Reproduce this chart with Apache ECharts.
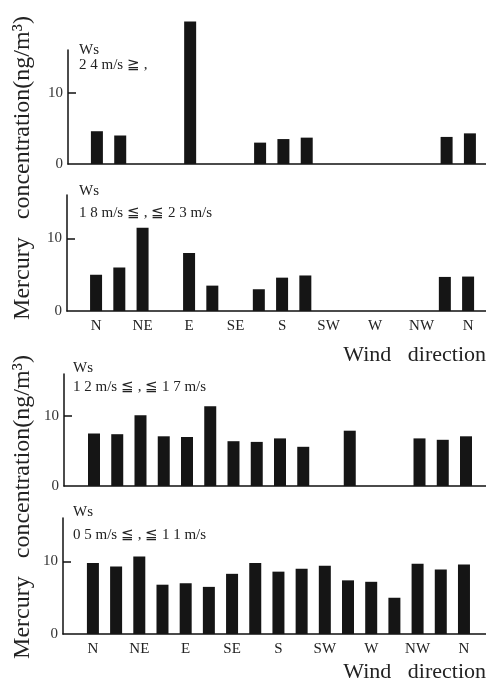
<!DOCTYPE html>
<html><head><meta charset="utf-8">
<script src="https://cdn.jsdelivr.net/npm/echarts@6/dist/echarts.min.js"></script>
<style>html,body{margin:0;padding:0;background:#fff}#c{width:486px;height:685px}</style>
</head><body><div id="c"></div>
<script>
// 16-point wind directions (N repeated at end)
const directions = ['N','NNE','NE','ENE','E','ESE','SE','SSE','S','SSW','SW','WSW','W','WNW','NW','NNW','N'];
const tickLabels = ['N','NE','E','SE','S','SW','W','NW','N'];
const tickIndex = [0,2,4,6,8,10,12,14,16];
const yTicks = [0,10];
const ws24 = [4.6,4.0,null,null,20.0,null,null,3.0,3.5,3.7,null,null,null,null,null,3.8,4.3];
const ws18_23 = [5.0,6.0,11.5,null,8.0,3.5,null,3.0,4.6,4.9,null,null,null,null,null,4.7,4.75];
const ws12_17 = [7.5,7.4,10.1,7.1,7.0,11.4,6.4,6.3,6.8,5.6,null,7.9,null,null,6.8,6.6,7.1];
const ws05_11 = [9.8,9.3,10.7,6.8,7.0,6.5,8.3,9.8,8.6,9.0,9.4,7.4,7.2,5.0,9.7,8.9,9.6];
const panelLabels = ['2 4 m/s \u2267 ,', '1 8 m/s \u2266 , \u2266 2 3 m/s', '1 2 m/s \u2266 , \u2266 1 7 m/s', '0 5 m/s \u2266 , \u2266 1 1 m/s'];

const serif = '"Liberation Serif","DejaVu Serif",serif';
const panels = [
  {data: ws24,    left: 68, top: 50,  height: 114, xmin: -1.24, xmax: 16.69, labels: false, tx: 79, ty1: 51,  ty2: 66},
  {data: ws18_23, left: 67, top: 195, height: 116, xmin: -1.25, xmax: 16.77, labels: true,  tx: 79, ty1: 192, ty2: 214},
  {data: ws12_17, left: 64, top: 374, height: 112, xmin: -1.29, xmax: 16.86, labels: false, tx: 73, ty1: 369, ty2: 388},
  {data: ws05_11, left: 63, top: 518, height: 116, xmin: -1.29, xmax: 16.95, labels: true,  tx: 73, ty1: 513, ty2: 536}
];
const grid = [], xAxis = [], yAxis = [], series = [], graphic = [];
panels.forEach((p, k) => {
  grid.push({left: p.left, top: p.top, width: 486 - p.left, height: p.height});
  xAxis.push({
    type: 'value', gridIndex: k, min: p.xmin, max: p.xmax,
    axisLine: {show: true, onZero: false, lineStyle: {color: '#111', width: 1.5}},
    axisTick: {show: false}, splitLine: {show: false},
    axisLabel: {show: p.labels, customValues: tickIndex, margin: 8,
      formatter: v => tickLabels[tickIndex.indexOf(Math.round(v))] || '',
      color: '#222', fontFamily: serif, fontSize: 15}
  });
  yAxis.push({
    type: 'value', gridIndex: k, min: 0, max: 16,
    axisLine: {show: true, onZero: false, lineStyle: {color: '#111', width: 1.5}},
    axisTick: {show: true, inside: true, length: 8, customValues: [10], lineStyle: {color: '#111', width: 1.5}},
    splitLine: {show: false},
    axisLabel: {customValues: yTicks, margin: 5, color: '#333', fontFamily: serif, fontSize: 15}
  });
  series.push({
    type: 'bar', xAxisIndex: k, yAxisIndex: k, barWidth: 12, clip: false,
    itemStyle: {color: '#151515'},
    data: p.data.map((v, i) => [i, v === null ? '-' : v]),
    name: directions.join(',')
  });
  graphic.push({type: 'text', left: p.tx, top: p.ty1 - 8, style: {text: 'Ws', font: '15px ' + serif, fill: '#222'}});
  graphic.push({type: 'text', left: p.tx, top: p.ty2 - 8, style: {text: panelLabels[k], font: '15px ' + serif, fill: '#222'}});
});
// y titles
[168, 507].forEach(cy => {
  graphic.push({type: 'text', x: 23, y: cy, rotation: Math.PI / 2,
    style: {text: 'Mercury   concentration(ng/m\u00b3)', font: '24px ' + serif, fill: '#222', align: 'center', verticalAlign: 'middle'}});
});
[355, 672].forEach(cy => {
  graphic.push({type: 'text', x: 486, y: cy,
    style: {text: 'Wind   direction', font: '22px ' + serif, fill: '#222', align: 'right', verticalAlign: 'middle'}});
});
const chart = echarts.init(document.getElementById('c'));
chart.setOption({animation: false, grid, xAxis, yAxis, series, graphic});
</script></body></html>
